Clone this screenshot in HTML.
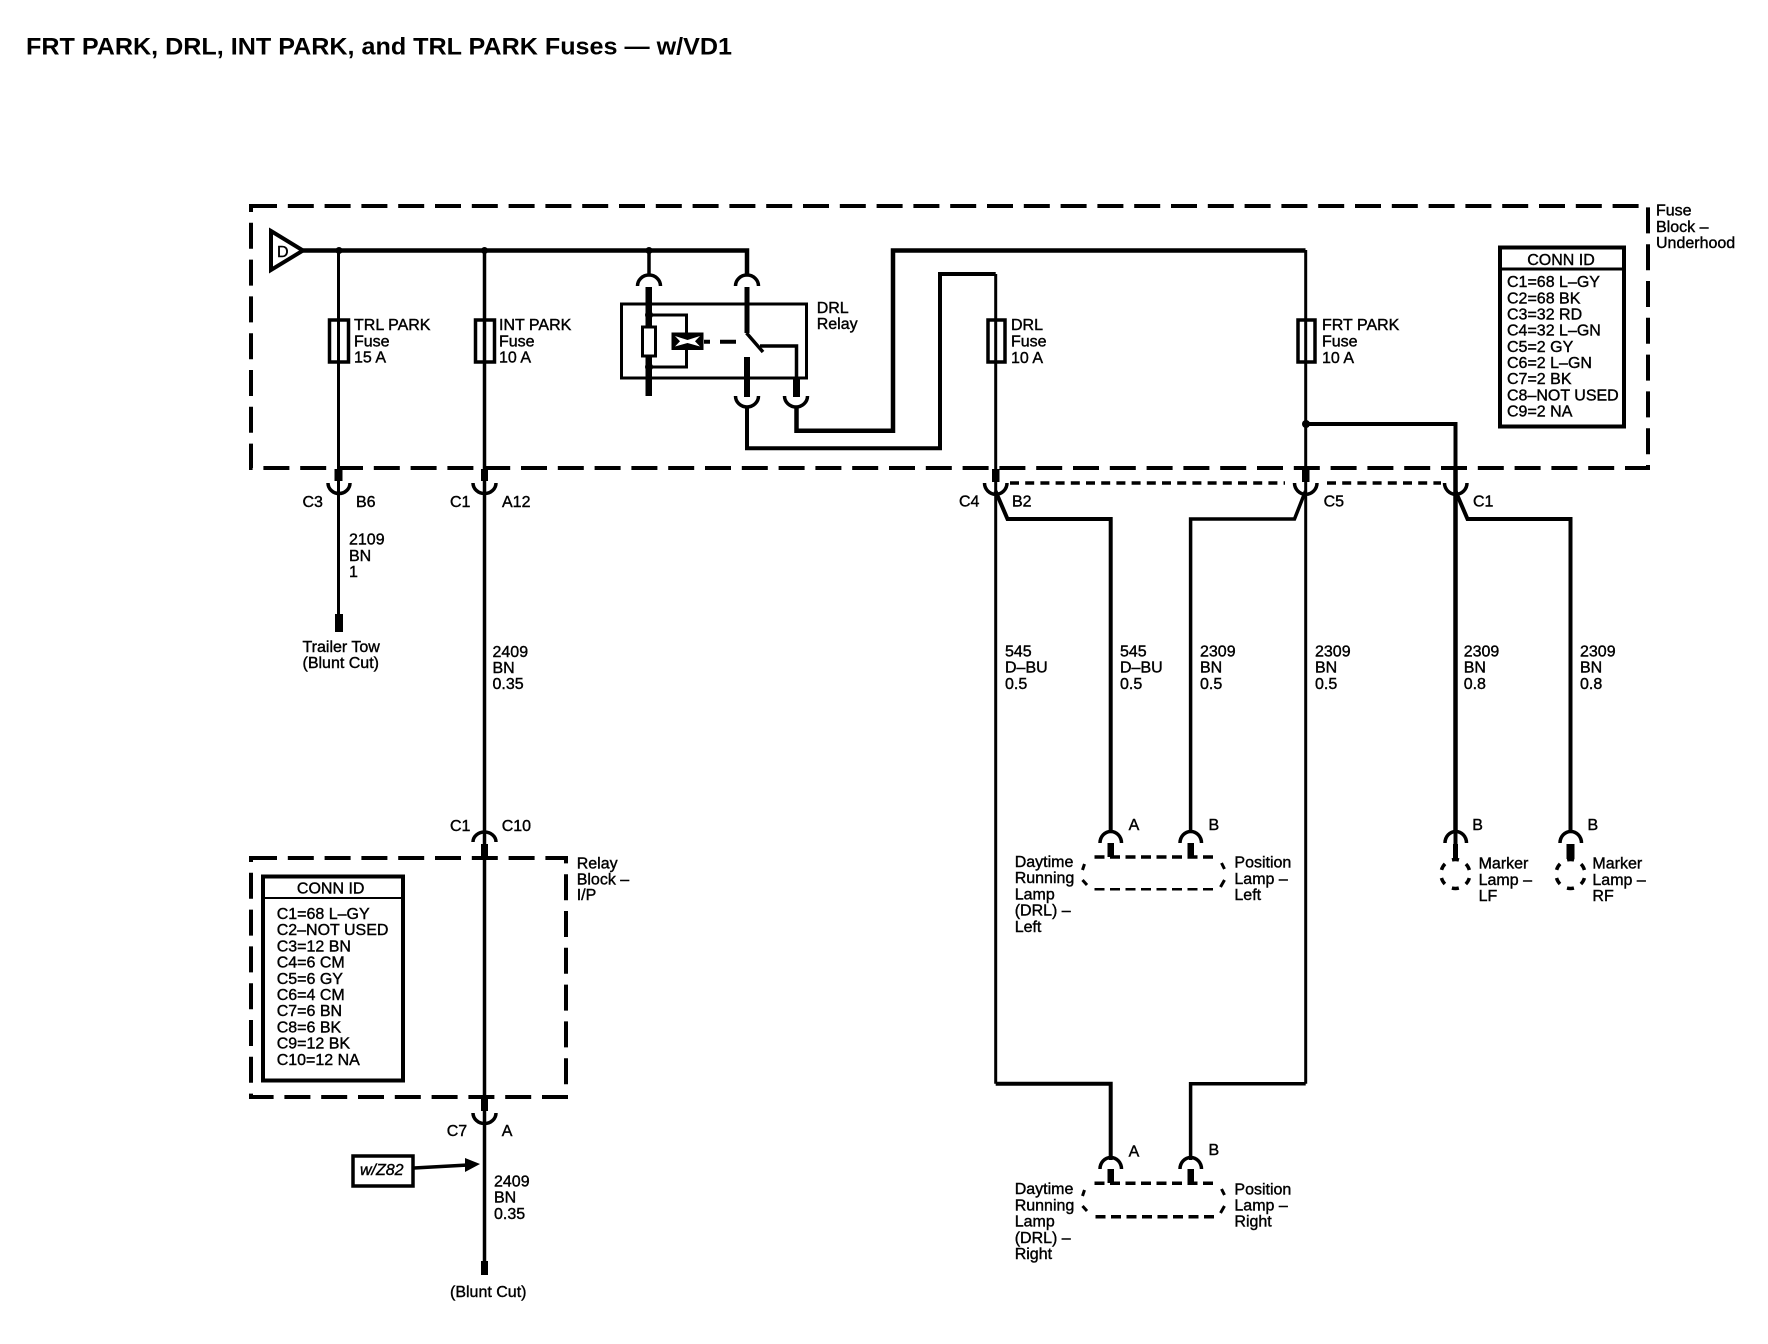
<!DOCTYPE html>
<html><head><meta charset="utf-8"><title>FRT PARK, DRL, INT PARK, and TRL PARK Fuses</title>
<style>
html,body{margin:0;padding:0;background:#fff}
svg{display:block}
text{font-family:"Liberation Sans",sans-serif;font-size:16px;fill:#000;stroke:#000;stroke-width:.4}
.t{font-size:24px;font-weight:bold;stroke-width:0}
.w{fill:none;stroke:#000;stroke-linejoin:miter}
</style></head><body>
<svg width="1768" height="1344" viewBox="0 0 1768 1344" xmlns="http://www.w3.org/2000/svg">
<rect width="1768" height="1344" fill="#fff"/>
<text class="t" x="26" y="54.5" textLength="706" lengthAdjust="spacingAndGlyphs">FRT PARK, DRL, INT PARK, and TRL PARK Fuses — w/VD1</text>

<!-- Fuse block dashed -->
<path class="w" d="M251 206H1648V468H251Z" stroke-width="4" stroke-dasharray="26 10.8"/>
<!-- Relay block dashed -->
<path class="w" d="M251 858H566V1097H251Z" stroke-width="4" stroke-dasharray="26 10.8"/>

<!-- D terminal -->
<path class="w" d="M271 231L303 250.5L271 270Z" stroke-width="4" fill="#fff"/>
<text x="277" y="257">D</text>

<!-- Bus -->
<path class="w" d="M303 250.5H747V275" stroke-width="4.5"/>
<circle cx="339" cy="250.5" r="3.5"/><circle cx="484.5" cy="250.5" r="3.5"/><circle cx="649" cy="250.5" r="3.5"/>
<path class="w" d="M649 250V275" stroke-width="3.5"/>

<!-- TRL PARK -->
<path class="w" d="M338.500 250V616" stroke-width="3"/>
<rect x="329.500" y="320" width="19" height="42" fill="none" stroke="#000" stroke-width="3.500"/>
<rect x="334.500" y="469" width="8" height="12"/>
<path class="w" d="M328 483A11 10.500 0 0 0 350 483" stroke-width="3.500"/>
<rect x="335" y="614" width="8" height="18"/>
<text x="354" y="330">TRL PARK</text><text x="354" y="346.500">Fuse</text><text x="354" y="362.500">15 A</text>
<text x="302.500" y="507">C3</text><text x="356" y="507">B6</text>
<text x="349" y="544.600">2109</text><text x="349" y="561">BN</text><text x="349" y="577">1</text>
<text x="302.500" y="652">Trailer Tow</text><text x="302.500" y="668">(Blunt Cut)</text>

<!-- INT PARK -->
<path class="w" d="M484.500 250V1265" stroke-width="3.500"/>
<rect x="475.500" y="320" width="19" height="42" fill="none" stroke="#000" stroke-width="3.500"/>
<rect x="481" y="469" width="7" height="12"/>
<path class="w" d="M473 483A11.500 10.500 0 0 0 496 483" stroke-width="3.500"/>
<text x="499" y="330">INT PARK</text><text x="499" y="346.500">Fuse</text><text x="499" y="362.500">10 A</text>
<text x="450" y="507">C1</text><text x="502" y="507">A12</text>
<text x="492.500" y="657">2409</text><text x="492.500" y="673">BN</text><text x="492.500" y="689">0.35</text>

<text x="450" y="831">C1</text><text x="501.700" y="831">C10</text>
<path class="w" d="M473 842A11.500 10 0 0 1 496 842" stroke-width="3.500"/>
<rect x="481" y="844" width="7" height="14"/>
<rect x="481" y="1097" width="7" height="14"/>
<path class="w" d="M473 1113A11.500 10.500 0 0 0 496 1113" stroke-width="3.500"/>
<text x="446.700" y="1135.800">C7</text><text x="501.700" y="1135.800">A</text>
<text x="494" y="1186.500">2409</text><text x="494" y="1202.500">BN</text><text x="494" y="1219">0.35</text>
<rect x="481" y="1261" width="7" height="14"/>
<text x="450" y="1297">(Blunt Cut)</text>
<text x="576.700" y="868.400">Relay</text><text x="576.700" y="884.400">Block –</text><text x="576.700" y="900">I/P</text>

<!-- Conn ID relay block -->
<rect x="263" y="876.500" width="140" height="204" fill="#fff" stroke="#000" stroke-width="4"/>
<path class="w" d="M263 898H403" stroke-width="2"/>
<text x="330.700" y="893.700" text-anchor="middle">CONN ID</text>
<text x="276.700" y="919">C1=68 L–GY</text><text x="276.700" y="935">C2–NOT USED</text><text x="276.700" y="951.500">C3=12 BN</text><text x="276.700" y="967.600">C4=6 CM</text><text x="276.700" y="983.800">C5=6 GY</text><text x="276.700" y="1000">C6=4 CM</text><text x="276.700" y="1016">C7=6 BN</text><text x="276.700" y="1032.500">C8=6 BK</text><text x="276.700" y="1048.700">C9=12 BK</text><text x="276.700" y="1065">C10=12 NA</text>

<!-- w/Z82 -->
<rect x="353" y="1156" width="60" height="30" fill="#fff" stroke="#000" stroke-width="3.500"/>
<text x="360" y="1175" font-style="italic">w/Z82</text>
<path class="w" d="M414 1168L468 1165" stroke-width="3.500"/>
<path d="M480 1164L465 1158V1172Z"/>

<!-- Relay -->
<rect x="621.500" y="304" width="185" height="74" fill="none" stroke="#000" stroke-width="3"/>
<path class="w" d="M637.500 286A11.500 11 0 0 1 660.500 286" stroke-width="3.500"/>
<path class="w" d="M735.500 286A11.500 11 0 0 1 758.500 286" stroke-width="3.500"/>
<rect x="645.500" y="287" width="6.500" height="109"/>
<rect x="642.500" y="327" width="13" height="29" fill="#fff" stroke="#000" stroke-width="3"/>
<circle cx="649" cy="315" r="4"/><circle cx="649" cy="367" r="4"/>
<path class="w" d="M649 315H686.500V367H649" stroke-width="3"/>
<rect x="671.500" y="332.500" width="32" height="17.500"/>
<path d="M675 336L687.500 340L700 336L695 341.200L700 346.500L687.500 343L675 346.500L680 341.200Z" fill="#fff"/>
<path class="w" d="M704 341.700H710M720 341.700H736" stroke-width="4"/>
<rect x="744.500" y="287" width="5" height="46"/>
<path class="w" d="M746.500 333L763 352" stroke-width="3.500"/>
<path class="w" d="M760 346H796.500V380" stroke-width="3.500"/>
<rect x="744" y="357" width="6" height="40"/>
<rect x="793" y="378" width="7" height="19"/>
<path class="w" d="M735.500 396A11.500 11 0 0 0 758.500 396" stroke-width="3.500"/>
<path class="w" d="M784.500 396A11.500 11 0 0 0 807.500 396" stroke-width="3.500"/>
<path class="w" d="M796.500 406V430.700H893V250.500H1305.500" stroke-width="4.500"/>
<path class="w" d="M747 406V448.300H940V274H995.700" stroke-width="4"/>
<text x="816.700" y="313">DRL</text><text x="816.700" y="329">Relay</text>

<!-- DRL fuse -->
<path class="w" d="M995.700 274V1083.700" stroke-width="3"/>
<rect x="988" y="320" width="17" height="42" fill="none" stroke="#000" stroke-width="3.500"/>
<text x="1011" y="330">DRL</text><text x="1011" y="346.500">Fuse</text><text x="1011" y="363">10 A</text>
<!-- FRT PARK -->
<path class="w" d="M1305.700 250V1083.700" stroke-width="3"/>
<rect x="1298" y="320" width="17" height="42" fill="none" stroke="#000" stroke-width="3.500"/>
<text x="1322" y="330">FRT PARK</text><text x="1322" y="346.500">Fuse</text><text x="1322" y="363">10 A</text>
<circle cx="1306" cy="424" r="4"/>
<path class="w" d="M1306 424H1455.500V850" stroke-width="4"/>
<path class="w" d="M1455.500 469V830" stroke-width="4.500"/>

<!-- Conn ID fuse block -->
<rect x="1500" y="247.500" width="124" height="179" fill="#fff" stroke="#000" stroke-width="4"/>
<path class="w" d="M1500 269H1624" stroke-width="3"/>
<text x="1561" y="265" text-anchor="middle">CONN ID</text>
<text x="1507" y="287">C1=68 L–GY</text><text x="1507" y="303.300">C2=68 BK</text><text x="1507" y="319.500">C3=32 RD</text><text x="1507" y="335.700">C4=32 L–GN</text><text x="1507" y="352">C5=2 GY</text><text x="1507" y="368">C6=2 L–GN</text><text x="1507" y="384">C7=2 BK</text><text x="1507" y="400.500">C8–NOT USED</text><text x="1507" y="416.700">C9=2 NA</text>
<text x="1656" y="215.600">Fuse</text><text x="1656" y="232">Block –</text><text x="1656" y="248">Underhood</text>

<!-- Connectors row -->
<rect x="992" y="469" width="7.500" height="13"/>
<rect x="1302" y="469" width="7.500" height="13"/>
<path class="w" d="M1010 483H1285" stroke-width="3.500" stroke-dasharray="9 6.200"/>
<path class="w" d="M1327 483H1441" stroke-width="3.500" stroke-dasharray="9 6.200"/>
<path class="w" d="M984.500 483A11 11 0 0 0 1007 483" stroke-width="3.500"/>
<path class="w" d="M1294.500 483A11 11 0 0 0 1317 483" stroke-width="3.500"/>
<path class="w" d="M1444.500 483A11 11 0 0 0 1467 483" stroke-width="3.500"/>
<path class="w" d="M995.500 491L1007.500 519H1110.700V832" stroke-width="4"/>
<path class="w" d="M1305.500 491L1294.500 519H1190.600V832" stroke-width="3.500"/>
<path class="w" d="M1455.500 491L1467.500 519H1570.500V832" stroke-width="4"/>
<text x="959" y="506.400">C4</text><text x="1012" y="506.400">B2</text><text x="1323.600" y="506.400">C5</text><text x="1473" y="506.400">C1</text>

<text x="1005" y="656.500">545</text><text x="1005" y="672.500">D–BU</text><text x="1005" y="689">0.5</text>
<text x="1120" y="656.500">545</text><text x="1120" y="672.500">D–BU</text><text x="1120" y="689">0.5</text>
<text x="1200" y="656.500">2309</text><text x="1200" y="672.500">BN</text><text x="1200" y="689">0.5</text>
<text x="1315" y="656.500">2309</text><text x="1315" y="672.500">BN</text><text x="1315" y="689">0.5</text>
<text x="1463.700" y="656.500">2309</text><text x="1463.700" y="672.500">BN</text><text x="1463.700" y="689">0.8</text>
<text x="1580" y="656.500">2309</text><text x="1580" y="672.500">BN</text><text x="1580" y="689">0.8</text>

<!-- Left lamp -->
<path class="w" d="M1100 843A10.700 11.500 0 0 1 1121.500 843" stroke-width="3.500"/>
<path class="w" d="M1180 843A10.700 11.500 0 0 1 1201.500 843" stroke-width="3.500"/>
<rect x="1107.500" y="843" width="6.500" height="14"/><rect x="1187.500" y="843" width="6.500" height="14"/>
<path class="w" d="M1094.500 857H1214" stroke-width="3.500" stroke-dasharray="10 5.500"/>
<path class="w" d="M1094.500 889.300H1214" stroke-width="2.500" stroke-dasharray="10 5.500"/>
<path class="w" d="M1084.500 864L1082.500 870M1082.500 880L1087 885M1221.500 863L1224.500 869M1224.500 880L1220.500 887" stroke-width="3"/>
<text x="1128.600" y="830">A</text><text x="1208.500" y="830">B</text>
<text x="1014.700" y="867">Daytime</text><text x="1014.700" y="883">Running</text><text x="1014.700" y="899.500">Lamp</text><text x="1014.700" y="915.700">(DRL) –</text><text x="1014.700" y="932">Left</text>
<text x="1234.400" y="867.700">Position</text><text x="1234.400" y="884">Lamp –</text><text x="1234.400" y="900">Left</text>

<!-- Marker lamps -->
<path class="w" d="M1445 843A10.700 11.500 0 0 1 1466.500 843" stroke-width="3.500"/>
<path class="w" d="M1560 843A10.700 11.500 0 0 1 1581.500 843" stroke-width="3.500"/>
<rect x="1453" y="844" width="5" height="15"/><rect x="1566.500" y="844" width="8" height="15"/>
<circle cx="1455.400" cy="874" r="14.500" fill="none" stroke="#000" stroke-width="3.500" stroke-dasharray="7 8.180" stroke-dashoffset="3.500" transform="rotate(-30 1455.400 874)"/>
<circle cx="1570.500" cy="874" r="14.500" fill="none" stroke="#000" stroke-width="3.500" stroke-dasharray="7 8.180" stroke-dashoffset="3.500" transform="rotate(-30 1570.500 874)"/>
<text x="1472.300" y="830">B</text><text x="1587.500" y="830">B</text>
<text x="1478.600" y="868.500">Marker</text><text x="1478.600" y="885">Lamp –</text><text x="1478.600" y="901">LF</text>
<text x="1592.400" y="868.500">Marker</text><text x="1592.400" y="885">Lamp –</text><text x="1592.400" y="901">RF</text>

<!-- Right lamp -->
<path class="w" d="M995.700 1083.700H1110.700V1160" stroke-width="4"/>
<path class="w" d="M1305.700 1083.700H1190.600V1160" stroke-width="3.500"/>
<path class="w" d="M1100 1169A10.700 11.500 0 0 1 1121.500 1169" stroke-width="3.500"/>
<path class="w" d="M1180 1169A10.700 11.500 0 0 1 1201.500 1169" stroke-width="3.500"/>
<rect x="1107.500" y="1169" width="6.500" height="14"/><rect x="1187.500" y="1169" width="6.500" height="14"/>
<path class="w" d="M1094.500 1183.300H1214" stroke-width="3.500" stroke-dasharray="10 5.500"/>
<path class="w" d="M1095.500 1216.700H1214" stroke-width="3.500" stroke-dasharray="10 5.500"/>
<path class="w" d="M1084.500 1190L1082.500 1196M1082.500 1206L1087 1211M1221.500 1189L1224.500 1195M1224.500 1206L1220.500 1213" stroke-width="3"/>
<text x="1128.600" y="1156.700">A</text><text x="1208.500" y="1155">B</text>
<text x="1014.700" y="1194">Daytime</text><text x="1014.700" y="1210.500">Running</text><text x="1014.700" y="1226.700">Lamp</text><text x="1014.700" y="1243">(DRL) –</text><text x="1014.700" y="1259">Right</text>
<text x="1234.400" y="1194.300">Position</text><text x="1234.400" y="1210.500">Lamp –</text><text x="1234.400" y="1226.700">Right</text>
</svg>
</body></html>
